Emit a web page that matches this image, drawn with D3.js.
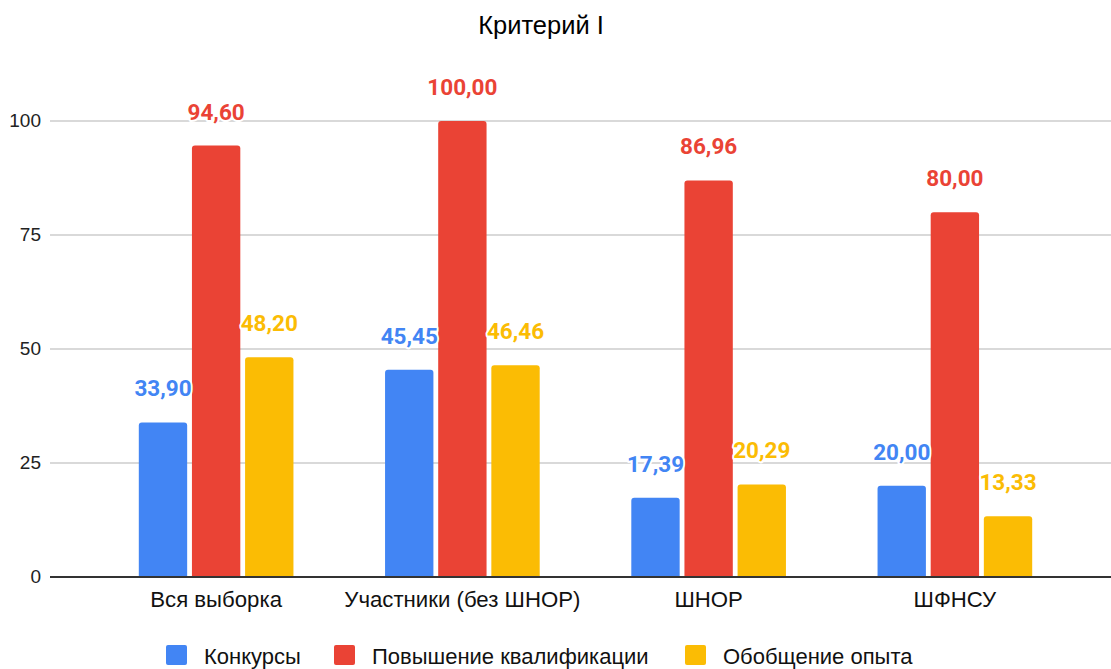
<!DOCTYPE html>
<html><head><meta charset="utf-8">
<script src="https://cdn.jsdelivr.net/npm/d3@7"></script>
<style>
html,body{margin:0;padding:0;background:#fff;}
svg{display:block;}
</style></head>
<body>
<svg id="chart" width="1111" height="669"></svg>
<script>
const title = "Критерий I";
const categories = ["Вся выборка", "Участники (без ШНОР)", "ШНОР", "ШФНСУ"];
const seriesNames = ["Конкурсы", "Повышение квалификации", "Обобщение опыта"];
const konkursy = [33.90, 45.45, 17.39, 20.00];
const povyshenie = [94.60, 100.00, 86.96, 80.00];
const obobshenie = [48.20, 46.46, 20.29, 13.33];
const yTicks = [0, 25, 50, 75, 100];
const colors = ["#4285F4", "#EA4335", "#FBBC04"];

const seriesValues = [konkursy, povyshenie, obobshenie];
const svg = d3.select("#chart");

const x0 = d3.scaleBand().domain(categories).range([93, 1078]).paddingInner(0.372).paddingOuter(0.186);
const x1 = d3.scaleBand().domain(seriesNames).range([0, x0.bandwidth()]).paddingInner(0.09);
const y = d3.scaleLinear().domain([0, 100]).range([577, 121]);

// gridlines
svg.append("g").selectAll("line").data(yTicks.filter(t => t !== 0)).join("line")
  .attr("x1", 50).attr("x2", 1111)
  .attr("y1", d => y(d)).attr("y2", d => y(d))
  .attr("stroke", "#cccccc").attr("stroke-width", 1.3);

// y tick labels
svg.append("g").selectAll("text").data(yTicks).join("text")
  .attr("x", 41).attr("y", d => y(d)).attr("dy", "0.33em")
  .attr("text-anchor", "end")
  .attr("font-family", "Liberation Sans, Arial, sans-serif")
  .attr("font-size", 19).attr("fill", "#222")
  .text(d => d);

// title
svg.append("text").attr("x", 541).attr("y", 34).attr("text-anchor", "middle")
  .attr("font-family", "Liberation Sans, Arial, sans-serif")
  .attr("font-size", 25.5).attr("fill", "#000").text(title);

// bars
const data = [];
categories.forEach((c, i) => {
  seriesNames.forEach((s, j) => {
    data.push({cat: c, ser: s, j: j, v: seriesValues[j][i]});
  });
});

function barPath(d) {
  const x = x0(d.cat) + x1(d.ser);
  const w = x1.bandwidth();
  const yt = y(d.v), yb = y(0);
  const r = Math.min(3, (yb - yt) / 2);
  return `M${x},${yb}V${yt + r}Q${x},${yt} ${x + r},${yt}H${x + w - r}Q${x + w},${yt} ${x + w},${yt + r}V${yb}Z`;
}

svg.append("g").selectAll("path").data(data).join("path")
  .attr("d", barPath)
  .attr("fill", d => colors[d.j]);

// baseline
svg.append("line").attr("x1", 50).attr("x2", 1111)
  .attr("y1", y(0)).attr("y2", y(0))
  .attr("stroke", "#333").attr("stroke-width", 2);

// category labels
svg.append("g").selectAll("text").data(categories).join("text")
  .attr("x", d => x0(d) + x0.bandwidth() / 2).attr("y", 607)
  .attr("text-anchor", "middle")
  .attr("font-family", "Liberation Sans, Arial, sans-serif")
  .attr("font-size", 22.2).attr("fill", "#111")
  .text(d => d);

// data labels
const fmt = v => v.toFixed(2).replace(".", ",");
svg.append("g").selectAll("text").data(data).join("text")
  .attr("x", d => x0(d.cat) + x1(d.ser) + x1.bandwidth() / 2)
  .attr("y", d => y(d.v) - 26)
  .attr("text-anchor", "middle")
  .attr("font-family", "Roboto, sans-serif")
  .attr("font-weight", "bold")
  .attr("font-size", 22.5)
  .attr("fill", d => colors[d.j])
  .attr("stroke", "#fff").attr("stroke-width", 4).attr("stroke-linejoin", "round")
  .attr("paint-order", "stroke")
  .text(d => fmt(d.v));

// legend
const legendX = [166, 334, 685];
const lg = svg.append("g").selectAll("g").data(seriesNames).join("g")
  .attr("transform", (d, i) => `translate(${legendX[i]},0)`);
lg.append("rect").attr("x", 0).attr("y", 645).attr("width", 21).attr("height", 20)
  .attr("rx", 2).attr("fill", (d, i) => colors[i]);
lg.append("text").attr("x", 38).attr("y", 663.5)
  .attr("font-family", "Liberation Sans, Arial, sans-serif")
  .attr("font-size", 22).attr("fill", "#111")
  .text(d => d);
</script>
</body></html>
